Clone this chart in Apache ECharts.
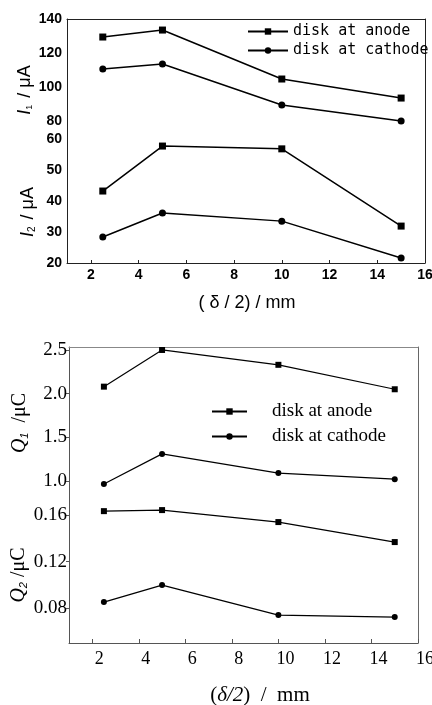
<!DOCTYPE html>
<html>
<head>
<meta charset="utf-8">
<script src="https://cdn.jsdelivr.net/npm/echarts@6.0.0/dist/echarts.min.js"></script>
<style>
  html, body { margin: 0; padding: 0; background: #fff; }
  #chart { width: 432px; height: 705px; }
</style>
</head>
<body>
<div id="chart"></div>
<script>
// half spacing (delta/2), mm
var xVals = [2.5, 5, 10, 15];
var seriesNames = ['disk at anode', 'disk at cathode'];

// top panel, current in uA
var i1Anode = [129.4, 133.5, 104.7, 93.5];
var i1Cathode = [110.6, 113.5, 89.4, 80];
var i2Anode = [43.2, 57.7, 56.8, 31.9];
var i2Cathode = [28.4, 36.1, 33.5, 21.6];

// bottom panel, charge in uC
var q1Anode = [2.08, 2.5, 2.33, 2.05];
var q1Cathode = [0.966, 1.31, 1.09, 1.02];
var q2Anode = [0.1634, 0.1643, 0.154, 0.1368];
var q2Cathode = [0.0852, 0.0998, 0.074, 0.0723];

// tick labels
var xTicks = [2, 4, 6, 8, 10, 12, 14, 16];
var i1Ticks = [80, 100, 120, 140];
var i2Ticks = [20, 30, 40, 50, 60];
var q1Ticks = [1.0, 1.5, 2.0, 2.5];
var q2Ticks = [0.08, 0.12, 0.16];

function pairs(arr) {
	return xVals.map(function(x, i) {
		return [x, arr[i]];
	});
}

var sansBold = {
	fontFamily: 'Liberation Sans',
	fontWeight: 'bold',
	fontSize: 14,
	color: '#000'
};
var serif = {
	fontFamily: 'Liberation Serif',
	fontSize: 18,
	color: '#000'
};

// plain frame axis (no labels)
function frameX(grid, pos, color) {
	return {
		type: 'value', gridIndex: grid, position: pos, min: 1, max: 16,
		axisLine: { show: true, onZero: false, lineStyle: { color: color, width: 1 } },
		axisTick: { show: false }, axisLabel: { show: false }, splitLine: { show: false }
	};
}
function frameY(grid, color) {
	return {
		type: 'value', gridIndex: grid, position: 'right', min: 0, max: 1,
		axisLine: { show: true, onZero: false, lineStyle: { color: color, width: 1 } },
		axisTick: { show: false }, axisLabel: { show: false }, splitLine: { show: false }
	};
}

function lineSeries(name, xi, yi, arr, width, size) {
	return {
		name: name,
		type: 'line',
		xAxisIndex: xi,
		yAxisIndex: yi,
		data: pairs(arr),
		symbol: name == seriesNames[0] ? 'rect' : 'circle',
		symbolSize: size,
		lineStyle: { color: '#000', width: width },
		itemStyle: { color: '#000' },
		clip: false
	};
}

var chart = echarts.init(document.getElementById('chart'));

var option = {
	animation: false,
	backgroundColor: '#fff',
	grid: [
		{ left: 67, right: 7, top: 19, height: 110, outerBoundsMode: 'none' },
		{ left: 67, right: 7, top: 129, height: 134, outerBoundsMode: 'none' },
		{ left: 69, right: 14, top: 347, height: 151, outerBoundsMode: 'none' },
		{ left: 69, right: 14, top: 498, height: 145, outerBoundsMode: 'none' }
	],
	xAxis: [
		frameX(0, 'top', '#222'),
		{
			type: 'value', gridIndex: 1, position: 'bottom', min: 1, max: 16,
			axisLine: { show: true, onZero: false, lineStyle: { color: '#222', width: 1 } },
			axisTick: { show: true, inside: true, length: 3, customValues: xTicks, lineStyle: { color: '#222' } },
			axisLabel: Object.assign({ customValues: xTicks, margin: 5 }, sansBold),
			splitLine: { show: false }
		},
		frameX(2, 'top', '#888'),
		{
			type: 'value', gridIndex: 3, position: 'bottom', min: 1, max: 16,
			axisLine: { show: true, onZero: false, lineStyle: { color: '#555', width: 1 } },
			axisTick: { show: true, inside: true, length: 4, customValues: xTicks, lineStyle: { color: '#555' } },
			axisLabel: Object.assign({ customValues: xTicks, margin: 7, padding: [0, 0, 0, 14] }, serif),
			splitLine: { show: false }
		}
	],
	yAxis: [
		{
			type: 'value', gridIndex: 0, position: 'left', min: 75.3, max: 140,
			axisLine: { show: true, onZero: false, lineStyle: { color: '#222', width: 1 } },
			axisTick: { show: false },
			axisLabel: Object.assign({ customValues: i1Ticks, margin: 5 }, sansBold),
			splitLine: { show: false }
		},
		frameY(0, '#222'),
		{
			type: 'value', gridIndex: 1, position: 'left', min: 20, max: 63.2,
			axisLine: { show: true, onZero: false, lineStyle: { color: '#222', width: 1 } },
			axisTick: { show: false },
			axisLabel: Object.assign({ customValues: i2Ticks, margin: 5 }, sansBold),
			splitLine: { show: false }
		},
		frameY(1, '#222'),
		{
			type: 'value', gridIndex: 2, position: 'left', min: 0.805, max: 2.534,
			axisLine: { show: true, onZero: false, lineStyle: { color: '#555', width: 1 } },
			axisTick: { show: true, length: 3, customValues: q1Ticks, lineStyle: { color: '#555' } },
			axisLabel: Object.assign({
				customValues: q1Ticks, margin: 2,
				formatter: function(v) { return v.toFixed(1); }
			}, serif, { fontSize: 19 }),
			splitLine: { show: false }
		},
		frameY(2, '#666'),
		{
			type: 'value', gridIndex: 3, position: 'left', min: 0.05, max: 0.1747,
			axisLine: { show: true, onZero: false, lineStyle: { color: '#555', width: 1 } },
			axisTick: { show: true, length: 3, customValues: q2Ticks, lineStyle: { color: '#555' } },
			axisLabel: Object.assign({
				customValues: q2Ticks, margin: 2,
				formatter: function(v) { return v.toFixed(2); }
			}, serif, { fontSize: 19 }),
			splitLine: { show: false }
		},
		frameY(3, '#666')
	],
	legend: [{
		data: seriesNames,
		orient: 'vertical',
		left: 242,
		top: 19,
		itemWidth: 40,
		itemHeight: 8,
		itemGap: 4,
		textStyle: { fontFamily: 'DejaVu Sans Mono', fontSize: 15, color: '#000' }
	}, {
		data: seriesNames,
		orient: 'vertical',
		left: 206,
		top: 397,
		itemWidth: 35,
		itemHeight: 8,
		itemGap: 6,
		textStyle: { fontFamily: 'Liberation Serif', fontSize: 19, color: '#000', padding: [0, 0, 0, 20] }
	}],
	graphic: [
		{
			type: 'text', x: 25, y: 90, rotation: Math.PI / 2,
			style: {
				text: '{i|I}{s|1} / μA',
				align: 'center', verticalAlign: 'middle',
				fontFamily: 'Liberation Sans', fontSize: 18, fill: '#000',
				rich: {
					i: { fontStyle: 'italic', fontSize: 18, fontFamily: 'Liberation Sans' },
					s: { fontSize: 9, verticalAlign: 'bottom', padding: [8, 2, 0, 0] }
				}
			}
		},
		{
			type: 'text', x: 28, y: 212, rotation: Math.PI / 2,
			style: {
				text: '{i|I}{s|2} / μA',
				align: 'center', verticalAlign: 'middle',
				fontFamily: 'Liberation Sans', fontSize: 18, fill: '#000',
				rich: {
					i: { fontStyle: 'italic', fontSize: 18, fontFamily: 'Liberation Sans' },
					s: { fontSize: 10, verticalAlign: 'bottom', padding: [8, 2, 0, 0] }
				}
			}
		},
		{
			type: 'text', x: 247, y: 303,
			style: {
				text: '( δ / 2) / mm',
				align: 'center', verticalAlign: 'middle',
				fontFamily: 'Liberation Sans', fontSize: 18, fill: '#000'
			}
		},
		{
			type: 'text', x: 20, y: 423, rotation: Math.PI / 2,
			style: {
				text: '{i|Q}{s|1}  /μC',
				align: 'center', verticalAlign: 'middle',
				fontFamily: 'Liberation Serif', fontSize: 20, fill: '#000',
				rich: {
					i: { fontStyle: 'italic', fontSize: 20, fontFamily: 'Liberation Serif' },
					s: { fontStyle: 'italic', fontSize: 11, verticalAlign: 'bottom', padding: [8, 0, 0, 0] }
				}
			}
		},
		{
			type: 'text', x: 19, y: 575, rotation: Math.PI / 2,
			style: {
				text: '{i|Q}{s|2} /μC',
				align: 'center', verticalAlign: 'middle',
				fontFamily: 'Liberation Serif', fontSize: 20, fill: '#000',
				rich: {
					i: { fontStyle: 'italic', fontSize: 20, fontFamily: 'Liberation Serif' },
					s: { fontStyle: 'italic', fontSize: 11, verticalAlign: 'bottom', padding: [8, 0, 0, 0] }
				}
			}
		},
		{
			type: 'text', x: 260, y: 695,
			style: {
				text: '({i|δ/2})  /  mm',
				align: 'center', verticalAlign: 'middle',
				fontFamily: 'Liberation Serif', fontSize: 21, fill: '#000',
				rich: {
					i: { fontStyle: 'italic', fontSize: 21, fontFamily: 'Liberation Serif' }
				}
			}
		}
	],
	series: [
		lineSeries(seriesNames[0], 0, 0, i1Anode, 1.5, 7),
		lineSeries(seriesNames[1], 0, 0, i1Cathode, 1.5, 7),
		lineSeries(seriesNames[0], 1, 2, i2Anode, 1.5, 7),
		lineSeries(seriesNames[1], 1, 2, i2Cathode, 1.5, 7),
		lineSeries(seriesNames[0], 2, 4, q1Anode, 1.2, 6),
		lineSeries(seriesNames[1], 2, 4, q1Cathode, 1.2, 6),
		lineSeries(seriesNames[0], 3, 6, q2Anode, 1.2, 6),
		lineSeries(seriesNames[1], 3, 6, q2Cathode, 1.2, 6)
	]
};

chart.setOption(option);
</script>
</body>
</html>
